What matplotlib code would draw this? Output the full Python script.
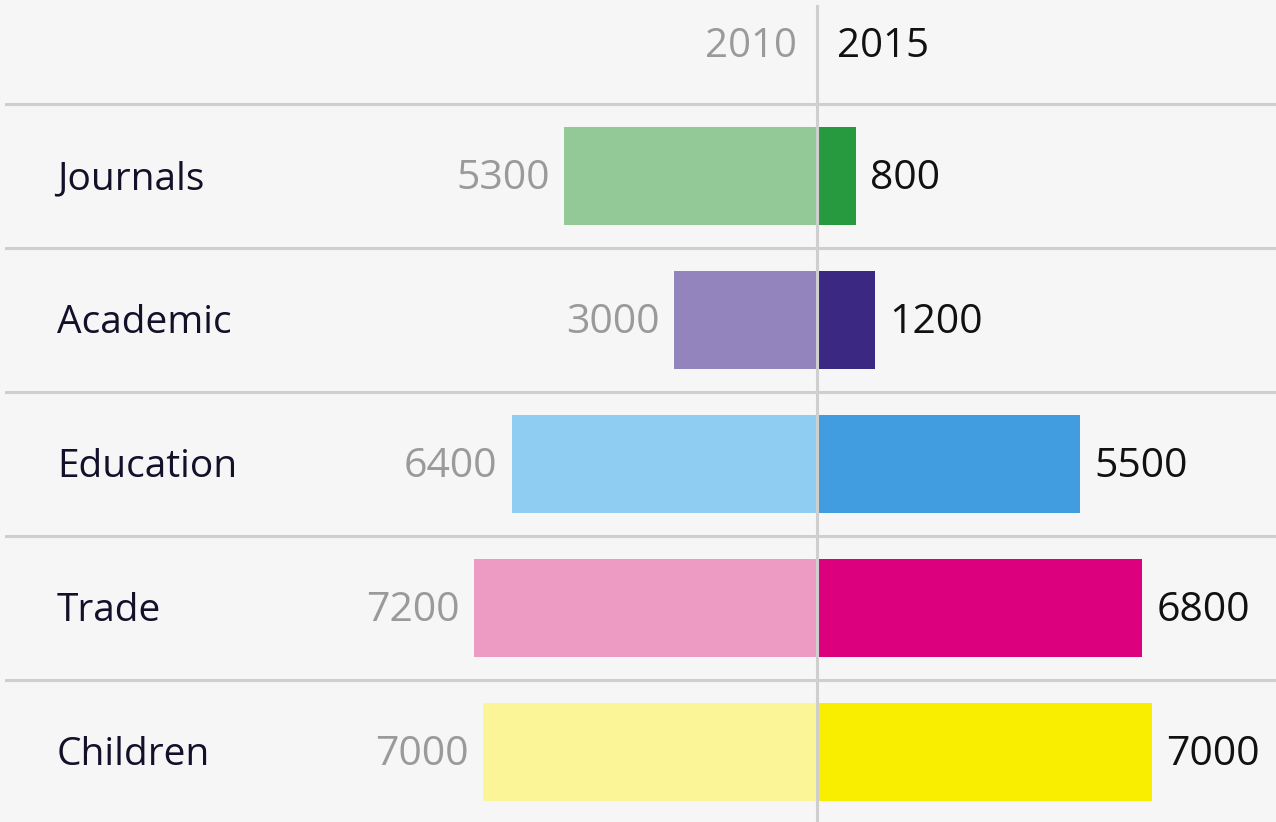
import matplotlib.pyplot as plt

categories = ['Journals', 'Academic', 'Education', 'Trade', 'Children']
values_2010 = [5300, 3000, 6400, 7200, 7000]
values_2015 = [800, 1200, 5500, 6800, 7000]
years = ['2010', '2015']
colors_2010 = ['#93c897', '#9384bd', '#8fcdf3', '#ee9bc3', '#fbf598']
colors_2015 = ['#279a3f', '#3b2883', '#429ce0', '#dc007e', '#f9ed00']

bg = '#f6f6f6'
grid = '#cfcfcf'
px = 0.0477  # pixels per unit

plt.rcParams['font.family'] = ['Open Sans', 'DejaVu Sans']

fig = plt.figure(figsize=(12.76, 8.22), dpi=100, facecolor=bg)
ax = fig.add_axes([0, 0, 1, 1])
ax.set_facecolor(bg)
ax.set_xlim(-817 / px, (1276 - 817) / px)
ax.set_ylim(1 + (822 - 176) / 144, 1 - 176 / 144)
ax.axis('off')

rows = list(range(1, len(categories) + 1))
ax.barh(rows, [-v for v in values_2010], height=0.68, color=colors_2010, zorder=2)
ax.barh(rows, values_2015, height=0.68, left=1 / px, color=colors_2015, zorder=2)

# row separators
x0 = -811 / px
for r in range(len(categories)):
    ax.plot([x0, ax.get_xlim()[1]], [r + 0.5, r + 0.5], color=grid, lw=2.2, zorder=1)
ax.plot([0, 0], [1 - 170 / 144, ax.get_ylim()[0]], color=grid, lw=2.2, zorder=3)

fs = 28
dy = 3 / 144
ax.text(-20 / px, 1 - 132 / 144 + dy, years[0], ha='right', va='center', fontsize=fs + 1, color='#9a9a9a')
ax.text(20 / px, 1 - 132 / 144 + dy, years[1], ha='left', va='center', fontsize=fs + 1, color='#111111')

for r, cat, a, b in zip(rows, categories, values_2010, values_2015):
    ax.text(-760 / px, r + dy, cat, ha='left', va='center', fontsize=fs, color='#14102a')
    ax.text(-a - 14 / px, r + dy, f'{a}', ha='right', va='center', fontsize=fs + 1.5, color='#9a9a9a')
    ax.text(b + 15 / px, r + dy, f'{b}', ha='left', va='center', fontsize=fs + 1.5, color='#111111')

fig.savefig('out.png', dpi=100, facecolor=bg)
